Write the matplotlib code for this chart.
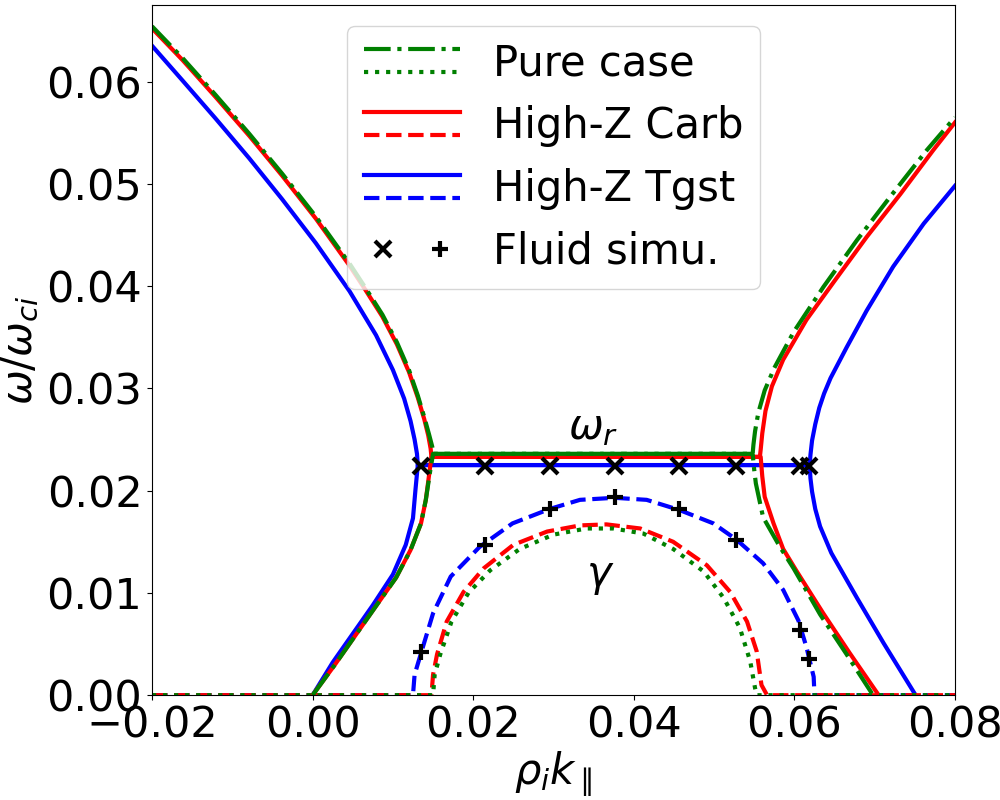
import matplotlib
matplotlib.use('Agg')

import matplotlib.pyplot as plt
from matplotlib.lines import Line2D
from matplotlib.legend_handler import HandlerBase, HandlerTuple

plt.rcParams.update({
    'font.family': 'DejaVu Sans',
    'font.size': 30,
    'xtick.labelsize': 31,
    'ytick.labelsize': 31,
    'mathtext.fontset': 'dejavusans',
})

# ── Tgst (blue) ─────────────────────────────────────────────────────────
tg_up_x = [-0.0200, -0.0162, -0.0121, -0.0079, -0.0038, 0.0004, 0.0046, 0.0079,
           0.0100, 0.0114, 0.0122, 0.0127, 0.0130, 0.0131,
           0.0619, 0.0620, 0.0622, 0.0626, 0.0631, 0.0637, 0.0645, 0.0665, 0.0690,
           0.0723, 0.0761, 0.0800]
tg_up_y = [0.0635, 0.0601, 0.0564, 0.0525, 0.0485, 0.0442, 0.0395, 0.0352,
           0.0318, 0.0290, 0.0268, 0.0250, 0.0236, 0.0225,
           0.0225, 0.0235, 0.0249, 0.0265, 0.0281, 0.0295, 0.0310, 0.0340, 0.0376,
           0.0419, 0.0461, 0.0498]
tg_lo_x = [0.0000, 0.0025, 0.0050, 0.0075, 0.0100, 0.0116, 0.0125, 0.0128, 0.0131,
           0.0619, 0.0620, 0.0622, 0.0626, 0.0632, 0.0646, 0.0662, 0.0678, 0.0711, 0.0751]
tg_lo_y = [0.0000, 0.0032, 0.0060, 0.0088, 0.0118, 0.0147, 0.0173, 0.0200, 0.0225,
           0.0225, 0.0212, 0.0199, 0.0182, 0.0165, 0.0139, 0.0117, 0.0095, 0.0051, 0.0000]
tg_gam_x = [-0.0200, 0.0125, 0.0127, 0.0135, 0.0150, 0.0172, 0.0208, 0.0249, 0.0295,
            0.0333, 0.0376, 0.0416, 0.0457, 0.0499, 0.0528, 0.0561, 0.0586, 0.0605,
            0.0615, 0.0624, 0.0625, 0.0800]
tg_gam_y = [0.0000, 0.0000, 0.0020, 0.0041, 0.0080, 0.0116, 0.0145, 0.0168, 0.0182,
            0.0191, 0.0193, 0.0191, 0.0181, 0.0168, 0.0152, 0.0129, 0.0103, 0.0073,
            0.0047, 0.0018, 0.0000, 0.0000]

# ── Carb (red) ──────────────────────────────────────────────────────────
cb_up_x = [-0.0200, -0.0162, -0.0121, -0.0079, -0.0038, 0.0004, 0.0046, 0.0066,
           0.0087, 0.0105, 0.0120, 0.0131, 0.0139, 0.0144, 0.0147, 0.0148,
           0.0557, 0.0558, 0.0560, 0.0564, 0.0572, 0.0586, 0.0615, 0.0649,
           0.0690, 0.0732, 0.0773, 0.0800]
cb_up_y = [0.0652, 0.0621, 0.0585, 0.0547, 0.0508, 0.0466, 0.0420, 0.0396,
           0.0370, 0.0343, 0.0316, 0.0291, 0.0270, 0.0254, 0.0241, 0.0233,
           0.0233, 0.0240, 0.0256, 0.0278, 0.0302, 0.0328, 0.0367, 0.0404,
           0.0448, 0.0490, 0.0533, 0.0560]
cb_lo_x = [0.0000, 0.0027, 0.0052, 0.0077, 0.0104, 0.0122, 0.0135, 0.0141, 0.0145,
           0.0148, 0.0557, 0.0558, 0.0560, 0.0563, 0.0574, 0.0586, 0.0603, 0.0636,
           0.0669, 0.0705]
cb_lo_y = [0.0000, 0.0029, 0.0057, 0.0085, 0.0115, 0.0142, 0.0168, 0.0191, 0.0215,
           0.0233, 0.0233, 0.0233, 0.0214, 0.0194, 0.0168, 0.0143, 0.0121, 0.0080,
           0.0041, 0.0000]
cb_gam_x = [-0.0200, 0.0148, 0.0150, 0.0155, 0.0167, 0.0188, 0.0213, 0.0250, 0.0292,
            0.0333, 0.0366, 0.0408, 0.0449, 0.0491, 0.0520, 0.0541, 0.0553, 0.0559,
            0.0566, 0.0800]
cb_gam_y = [0.0000, 0.0000, 0.0020, 0.0040, 0.0072, 0.0101, 0.0124, 0.0147, 0.0160,
            0.0166, 0.0167, 0.0163, 0.0150, 0.0127, 0.0101, 0.0072, 0.0043, 0.0010,
            0.0000, 0.0000]

# ── Pure case (green) ───────────────────────────────────────────────────
pu_up_x = [-0.0200, -0.0162, -0.0121, -0.0079, -0.0038, 0.0004, 0.0046, 0.0066,
           0.0087, 0.0105, 0.0120, 0.0131, 0.0139, 0.0145, 0.0149, 0.0150,
           0.0548, 0.0549, 0.0551, 0.0555, 0.0563, 0.0575, 0.0599, 0.0636,
           0.0678, 0.0719, 0.0765, 0.0800]
pu_up_y = [0.0654, 0.0623, 0.0587, 0.0549, 0.0510, 0.0468, 0.0422, 0.0398,
           0.0372, 0.0345, 0.0318, 0.0293, 0.0272, 0.0255, 0.0243, 0.0236,
           0.0236, 0.0245, 0.0258, 0.0276, 0.0298, 0.0320, 0.0355, 0.0399,
           0.0445, 0.0487, 0.0533, 0.0565]
pu_lo_x = [0.0000, 0.0027, 0.0052, 0.0077, 0.0104, 0.0122, 0.0135, 0.0141, 0.0146,
           0.0150, 0.0548, 0.0550, 0.0552, 0.0561, 0.0582, 0.0599, 0.0632, 0.0665,
           0.0698]
pu_lo_y = [0.0000, 0.0029, 0.0057, 0.0085, 0.0115, 0.0142, 0.0168, 0.0191, 0.0217,
           0.0236, 0.0236, 0.0220, 0.0207, 0.0174, 0.0145, 0.0124, 0.0079, 0.0040,
           0.0000]
pu_gam_x = [-0.0200, 0.0150, 0.0152, 0.0159, 0.0173, 0.0194, 0.0221, 0.0258, 0.0300,
            0.0341, 0.0375, 0.0412, 0.0449, 0.0487, 0.0512, 0.0532, 0.0545, 0.0551,
            0.0553, 0.0800]
pu_gam_y = [0.0000, 0.0000, 0.0020, 0.0040, 0.0072, 0.0100, 0.0122, 0.0143, 0.0157,
            0.0163, 0.0163, 0.0158, 0.0143, 0.0121, 0.0095, 0.0066, 0.0033, 0.0007,
            0.0000, 0.0000]

# ── fluid simulation points ─────────────────────────────────────────────
fl_k     = [0.0135, 0.0215, 0.0296, 0.0376, 0.0456, 0.0527, 0.0607, 0.0618]
fl_omega = [0.0224, 0.0224, 0.0224, 0.0224, 0.0224, 0.0224, 0.0224, 0.0224]
fl_gamma = [0.0042, 0.0147, 0.0182, 0.0194, 0.0182, 0.0152, 0.0064, 0.0035]


class TwoLines(HandlerBase):
    """two line styles stacked in one legend entry"""
    def create_artists(self, legend, orig_handle, xdescent, ydescent,
                       width, height, fontsize, trans):
        out = []
        for h, frac in zip(orig_handle, (0.9, 0.1)):
            y = -ydescent + frac * height
            ln = Line2D([-xdescent, -xdescent + width], [y, y])
            ln.update_from(h)
            ln.set_transform(trans)
            out.append(ln)
        return out


fig = plt.figure(figsize=(10, 8), dpi=100, facecolor='white')
ax = fig.add_axes([0.152, 0.131, 0.803, 0.863])

lw = 3
ax.plot(tg_up_x, tg_up_y, color='blue', lw=lw)
ax.plot(tg_lo_x, tg_lo_y, color='blue', lw=lw)
ax.plot(tg_gam_x, tg_gam_y, color='blue', lw=lw, ls='--')

ax.plot(cb_up_x, cb_up_y, color='red', lw=lw)
ax.plot(cb_lo_x, cb_lo_y, color='red', lw=lw)
ax.plot(cb_gam_x, cb_gam_y, color='red', lw=lw, ls='--')

ax.plot(pu_up_x, pu_up_y, color='green', lw=lw, ls='-.')
ax.plot(pu_lo_x, pu_lo_y, color='green', lw=lw, ls='-.')
ax.plot(pu_gam_x, pu_gam_y, color='green', lw=lw, ls=':')

ax.plot(fl_k, fl_omega, ls='none', marker='x', color='black', ms=12, mew=3, zorder=5)
ax.plot(fl_k, fl_gamma, ls='none', marker='+', color='black', ms=12, mew=3, zorder=5)

ax.text(0.0349, 0.0262, r'$\omega_r$', ha='center', va='center', fontsize=30)
ax.text(0.0358, 0.0117, r'$\gamma$', ha='center', va='center', fontsize=30)

ax.set_xlim(-0.02, 0.08)
ax.set_ylim(0, 0.0675)
ax.set_xticks([-0.02, 0.00, 0.02, 0.04, 0.06, 0.08])
ax.set_yticks([0.00, 0.01, 0.02, 0.03, 0.04, 0.05, 0.06])
ax.set_xlabel(r'$\rho_i k_\parallel$', fontsize=30, labelpad=2)
ax.set_ylabel(r'$\omega/\omega_{ci}$', fontsize=30)

# legend handles
h_pure = (Line2D([], [], color='green', lw=lw, ls='-.'),
          Line2D([], [], color='green', lw=lw, ls=':'))
h_carb = (Line2D([], [], color='red', lw=lw, ls='-'),
          Line2D([], [], color='red', lw=lw, ls='--'))
h_tgst = (Line2D([], [], color='blue', lw=lw, ls='-'),
          Line2D([], [], color='blue', lw=lw, ls='--'))
h_fl = (Line2D([], [], ls='none', marker='x', color='black', ms=12, mew=3),
        Line2D([], [], ls='none', marker='+', color='black', ms=12, mew=3))

two = TwoLines()
ax.legend([h_pure, h_carb, h_tgst, h_fl],
          ['Pure case', 'High-Z Carb', 'High-Z Tgst', 'Fluid simu.'],
          handler_map={h_pure: two, h_carb: two, h_tgst: two,
                       h_fl: HandlerTuple(ndivide=None)},
          loc='upper center', fontsize=30, handlelength=2.3)

fig.savefig('out.png', dpi=100, facecolor=fig.get_facecolor())
plt.close(fig)
